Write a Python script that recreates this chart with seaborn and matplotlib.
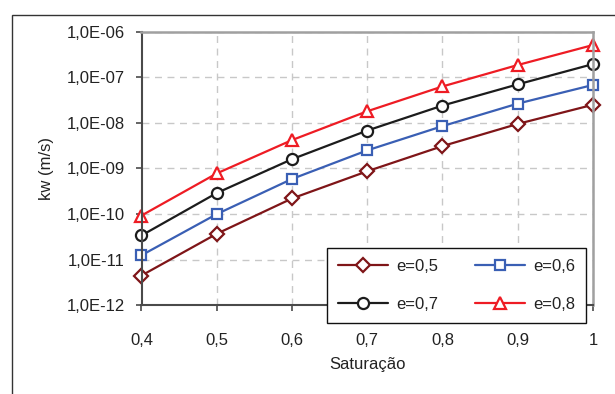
import numpy as np
import pandas as pd
import matplotlib
matplotlib.use("Agg")
import matplotlib.pyplot as plt
import seaborn as sns
from matplotlib.patches import Rectangle
from matplotlib.ticker import FixedLocator, FuncFormatter, NullLocator

# ---- data ----
saturacao = [0.4, 0.5, 0.6, 0.7, 0.8, 0.9, 1.0]
e05 = [4.5e-12, 3.7e-11, 2.2e-10, 8.7e-10, 3.1e-9, 9.5e-9, 2.5e-8]
e06 = [1.25e-11, 1.0e-10, 5.9e-10, 2.5e-9, 8.5e-9, 2.65e-8, 6.8e-8]
e07 = [3.4e-11, 2.9e-10, 1.6e-9, 6.8e-9, 2.4e-8, 7.0e-8, 1.95e-7]
e08 = [9.3e-11, 7.8e-10, 4.2e-9, 1.8e-8, 6.3e-8, 1.86e-7, 5.1e-7]
series_labels = ["e=0,5", "e=0,6", "e=0,7", "e=0,8"]
x_tick_labels = ["0,4", "0,5", "0,6", "0,7", "0,8", "0,9", "1"]
y_tick_exps = [-12, -11, -10, -9, -8, -7, -6]

df = pd.DataFrame({
    "Saturação": saturacao * 4,
    "kw": e05 + e06 + e07 + e08,
    "serie": sum([[lab] * len(saturacao) for lab in series_labels], []),
})

colors = {"e=0,5": "#7f1518", "e=0,6": "#3a5fb4", "e=0,7": "#1c1c1c", "e=0,8": "#ee1c24"}
markers = {"e=0,5": "D", "e=0,6": "s", "e=0,7": "o", "e=0,8": "^"}
msizes = {"e=0,5": 7.5, "e=0,6": 7.5, "e=0,7": 8, "e=0,8": 8.5}

sns.set_theme(style="white")
plt.rcParams["font.family"] = ["Liberation Sans", "DejaVu Sans"]

fig = plt.figure(figsize=(6.15, 3.94), dpi=100)
fig.patch.set_facecolor("white")
ax = fig.add_axes([141.5 / 615, 1 - 305.3 / 394, 451.5 / 615, 273.6 / 394])

for lab in series_labels:
    sub = df[df["serie"] == lab]
    sns.lineplot(data=sub, x="Saturação", y="kw", ax=ax, color=colors[lab],
                 marker=markers[lab], markersize=msizes[lab],
                 markerfacecolor="white", markeredgecolor=colors[lab],
                 markeredgewidth=1.6, linewidth=1.6, label=lab,
                 clip_on=False, legend=False)

ax.set_yscale("log")
ax.set_xlim(0.4, 1.0)
ax.set_ylim(1e-12, 1e-6)
ax.yaxis.set_major_locator(FixedLocator([10.0 ** k for k in y_tick_exps]))
ax.yaxis.set_minor_locator(NullLocator())
ax.yaxis.set_major_formatter(FuncFormatter(lambda v, p: "1,0E-%02d" % int(round(-np.log10(v)))))
ax.set_xticks(saturacao)
ax.set_xticklabels(x_tick_labels)

ax.grid(True, which="major", color="#c8c8c8", linestyle=(0, (5, 4)), linewidth=1.0)
for s in ["left", "bottom"]:
    ax.spines[s].set_color("#4a4a4a")
    ax.spines[s].set_linewidth(1.5)
for s in ["top", "right"]:
    ax.spines[s].set_color("#a0a0a0")
    ax.spines[s].set_linewidth(1.8)

ax.tick_params(axis="y", which="major", direction="out", length=4, width=1.2,
               color="#4a4a4a", left=True, pad=8, labelsize=12, labelcolor="#222222")
ax.tick_params(axis="x", which="major", direction="out", length=4, width=1.2,
               color="#4a4a4a", bottom=True, pad=16, labelsize=12, labelcolor="#222222")

ax.set_xlabel("Saturação", fontsize=12, color="#222222")
ax.set_ylabel("kw (m/s)", fontsize=12, color="#222222")
ax.xaxis.set_label_coords(0.5, (305.3 - 365) / 273.6)
ax.yaxis.set_label_coords((47 - 141.5) / 451.5, 0.5)
ax.xaxis.label.set_va("center")
ax.yaxis.label.set_va("center")

# legend rows: (e=0,5  e=0,6) / (e=0,7  e=0,8) -> column-major order
handles, labels = ax.get_legend_handles_labels()
hmap = dict(zip(labels, handles))
order = ["e=0,5", "e=0,7", "e=0,6", "e=0,8"]
leg = ax.legend([hmap[k] for k in order], order, loc="upper left",
                bbox_to_anchor=((327.3 - 141.5) / 451.5, (305.3 - 247.7) / 273.6),
                ncol=2, fontsize=12, frameon=True, fancybox=False, shadow=False,
                framealpha=1, edgecolor="#111111", handlelength=3.0,
                handletextpad=0.5, columnspacing=2.2, labelspacing=1.4,
                borderpad=0.65, borderaxespad=0)
leg.get_frame().set_linewidth(1.0)
for t in leg.get_texts():
    t.set_color("#222222")
leg.set_zorder(5)

# outer frame (chart area border extending past the image edges)
fig.add_artist(Rectangle((12 / 615, -0.1), 1.2, 1 - 14.7 / 394 + 0.1,
                         transform=fig.transFigure, fill=False,
                         edgecolor="#333333", linewidth=1.0, clip_on=False))

fig.savefig("out.png", dpi=100)
